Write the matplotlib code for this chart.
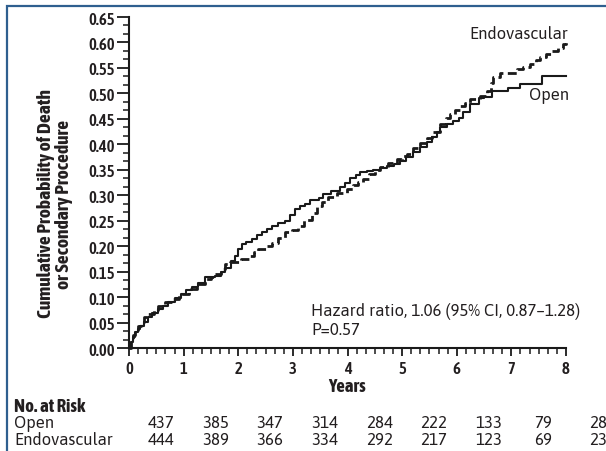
import matplotlib
matplotlib.use("Agg")
import matplotlib.pyplot as plt
import matplotlib.patches as patches
from matplotlib.ticker import MultipleLocator, FormatStrFormatter
import matplotlib.transforms as mtransforms

plt.rcParams['font.family'] = ['Asap', 'Asap Condensed', 'DejaVu Sans']
BOLD_FAM = ['Asap Condensed', 'DejaVu Sans']

# ---- data ----
open_t = [0, 0.03, 0.07, 0.11, 0.16, 0.2, 0.27, 0.35, 0.42, 0.54, 0.63, 0.72, 0.84, 0.96,
          1.05, 1.15, 1.27, 1.39, 1.5, 1.58, 1.68, 1.76, 1.86, 1.94, 2.0, 2.06, 2.15, 2.25,
          2.34, 2.43, 2.52, 2.61, 2.72, 2.86, 2.95, 3.04, 3.13, 3.22, 3.32, 3.47, 3.55, 3.7,
          3.86, 3.95, 4.05, 4.15, 4.23, 4.35, 4.47, 4.6, 4.72, 4.85, 4.96, 5.08, 5.2, 5.32,
          5.45, 5.55, 5.64, 5.7, 5.82, 5.94, 6.04, 6.12, 6.25, 6.4, 6.5, 6.64, 6.94, 7.16,
          7.56, 8.0]
open_p = [0, 0.012, 0.022, 0.031, 0.038, 0.044, 0.052, 0.06, 0.068, 0.077, 0.083, 0.09, 0.098,
          0.106, 0.113, 0.119, 0.128, 0.139, 0.14, 0.142, 0.15, 0.158, 0.17, 0.181, 0.195,
          0.204, 0.208, 0.214, 0.222, 0.227, 0.234, 0.24, 0.245, 0.25, 0.262, 0.273, 0.279,
          0.283, 0.29, 0.295, 0.302, 0.308, 0.316, 0.325, 0.333, 0.34, 0.346, 0.348, 0.35,
          0.354, 0.358, 0.362, 0.368, 0.376, 0.385, 0.395, 0.404, 0.415, 0.424, 0.434, 0.44,
          0.446, 0.452, 0.463, 0.479, 0.49, 0.493, 0.505, 0.511, 0.518, 0.535, 0.535]

endo_t = [0, 0.03, 0.07, 0.11, 0.16, 0.22, 0.28, 0.35, 0.45, 0.54, 0.66, 0.78, 0.92, 1.09,
          1.24, 1.39, 1.5, 1.58, 1.68, 1.76, 1.85, 1.94, 2.05, 2.19, 2.28, 2.37, 2.5, 2.61,
          2.72, 2.86, 2.98, 3.1, 3.2, 3.35, 3.45, 3.53, 3.65, 3.8, 3.99, 4.1, 4.2, 4.29, 4.4,
          4.5, 4.6, 4.75, 4.9, 5.0, 5.09, 5.2, 5.32, 5.45, 5.55, 5.7, 5.8, 5.88, 5.97, 6.06,
          6.15, 6.25, 6.43, 6.55, 6.62, 6.67, 6.8, 7.1, 7.22, 7.34, 7.45, 7.53, 7.64, 7.74,
          7.85, 7.95, 8.0]
endo_p = [0, 0.015, 0.025, 0.035, 0.043, 0.052, 0.06, 0.067, 0.075, 0.083, 0.09, 0.096, 0.106,
          0.116, 0.126, 0.136, 0.14, 0.145, 0.155, 0.165, 0.168, 0.168, 0.175, 0.181, 0.188,
          0.194, 0.2, 0.207, 0.216, 0.227, 0.232, 0.24, 0.252, 0.266, 0.278, 0.286, 0.297,
          0.305, 0.312, 0.32, 0.326, 0.332, 0.342, 0.35, 0.355, 0.363, 0.371, 0.377, 0.381,
          0.393, 0.403, 0.413, 0.425, 0.44, 0.452, 0.46, 0.468, 0.476, 0.482, 0.489, 0.495,
          0.505, 0.52, 0.532, 0.541, 0.548, 0.552, 0.558, 0.565, 0.571, 0.578, 0.584, 0.59,
          0.597, 0.605]

risk_years = [0, 1, 2, 3, 4, 5, 6, 7, 8]
risk_open = [437, 385, 347, 314, 284, 222, 133, 79, 28]
risk_endo = [444, 389, 366, 334, 292, 217, 123, 69, 23]

series_names = ["Open", "Endovascular"]
hr_text = "Hazard ratio, 1.06 (95% CI, 0.87\u20131.28)\nP=0.57"

# ---- figure ----
W, H = 606, 452
fig = plt.figure(figsize=(W / 100, H / 100), dpi=100)
fig.patch.set_facecolor('white')
tc = '#231f20'
lc = '#1a1a1a'

ax = fig.add_axes([129 / W, 1 - 349 / H, (566 - 129) / W, (349 - 18) / H])
ax.step(open_t, open_p, where='post', color=lc, lw=1.5, clip_on=False)
ax.step(endo_t, endo_p, where='post', color=lc, lw=2.0, dashes=(3.2, 1.6), clip_on=False)

ax.set_xlim(0, 8)
ax.set_ylim(0, 0.65)
for s in ['top', 'right']:
    ax.spines[s].set_visible(False)
for s in ['left', 'bottom']:
    ax.spines[s].set_linewidth(1.5)
    ax.spines[s].set_color(lc)

ax.xaxis.set_major_locator(MultipleLocator(1))
ax.xaxis.set_minor_locator(MultipleLocator(1 / 6))
ax.yaxis.set_major_locator(MultipleLocator(0.05))
ax.yaxis.set_minor_locator(MultipleLocator(0.05 / 3))
ax.yaxis.set_major_formatter(FormatStrFormatter('%.2f'))
ax.tick_params(which='major', direction='out', width=1.3, color=lc,
               labelsize=12, labelcolor=tc)
ax.tick_params(axis='y', which='major', length=9, pad=1)
ax.tick_params(axis='x', which='major', length=6, pad=3)
ax.tick_params(which='minor', direction='out', length=4, width=1.1, color=lc)
for lab in ax.get_xticklabels() + ax.get_yticklabels():
    lab.set_family(BOLD_FAM)
    lab.set_fontweight('semibold')

ax.text(8.05, 0.617, "Endovascular", ha='right', va='center', fontsize=12, color=tc)
ax.text(8.05, 0.497, "Open", ha='right', va='center', fontsize=12, color=tc)
ax.text(3.33, 0.055, hr_text, ha='left', va='center', fontsize=12, color=tc,
        linespacing=1.1)

fig.text(55 / W, 1 - 204 / H, "Cumulative Probability of Death\nor Secondary Procedure",
         rotation=90, ha='center', va='center', fontsize=14, fontweight='bold',
         family=BOLD_FAM, color=tc, multialignment='center', linespacing=1.0)
fig.text(347 / W, 1 - 387 / H, "Years", ha='center', va='center', fontsize=13.5,
         fontweight='bold', family=BOLD_FAM, color=tc)
fig.text(14 / W, 1 - 407 / H, "No. at Risk", ha='left', va='center', fontsize=13.5,
         fontweight='bold', family=BOLD_FAM, color=tc)
fig.text(14 / W, 1 - 424 / H, series_names[0], ha='left', va='center', fontsize=12, color=tc)
fig.text(14 / W, 1 - 441 / H, series_names[1], ha='left', va='center', fontsize=12, color=tc)

trans = mtransforms.blended_transform_factory(ax.transData, fig.transFigure)
for yr, a, b in zip(risk_years, risk_open, risk_endo):
    ax.text(yr + 0.58, 1 - 424 / H, str(a), transform=trans, ha='center', va='center',
            fontsize=12, color=tc, clip_on=False)
    ax.text(yr + 0.58, 1 - 441 / H, str(b), transform=trans, ha='center', va='center',
            fontsize=12, color=tc, clip_on=False)

border = patches.Rectangle((7 / W, -0.2), 1.2, (H - 7) / H + 0.2, transform=fig.transFigure,
                           fill=False, edgecolor='#2f5f8f', lw=1.6)
fig.patches.append(border)

fig.savefig("out.png", dpi=100, facecolor='white')
